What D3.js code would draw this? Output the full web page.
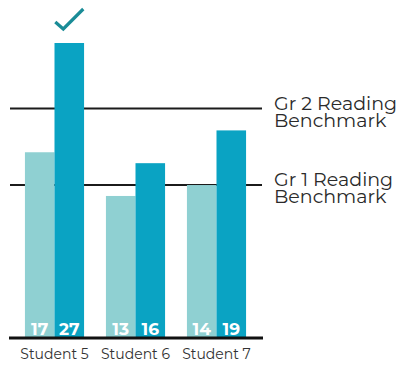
<!DOCTYPE html>
<html>
<head>
<meta charset="utf-8">
<script src="https://cdn.jsdelivr.net/npm/d3@7"></script>
<style>
  html, body { margin: 0; padding: 0; background: #fff; }
  svg { display: block; }
</style>
</head>
<body>
<svg id="chart" width="400" height="365"></svg>
<script>
// Reading scores per student: fall (light) and spring (dark)
const students = ["Student 5", "Student 6", "Student 7"];
const fallScores = [17, 13, 14];
const springScores = [27, 16, 19];
const benchmarkNames = [["Gr 1 Reading", "Benchmark"], ["Gr 2 Reading", "Benchmark"]];
const benchmarkValues = [14, 21];

const svg = d3.select("#chart");
const font = "'Montserrat', 'DejaVu Sans', sans-serif";

const x = d3.scaleBand().domain(students).range([14, 257]).paddingInner(0.27).paddingOuter(0.135);
const xSub = d3.scaleBand().domain(["fall", "spring"]).range([0, x.bandwidth()]).padding(0);
const y = d3.scaleLinear().domain([0, 27]).range([338, 43]);

const colors = { fall: "#8fd0d2", spring: "#0aa3c3" };

const rows = students.map((s, i) => ({ student: s, fall: fallScores[i], spring: springScores[i] }));

// Bars
const groups = svg.selectAll("g.group").data(rows).join("g")
  .attr("class", "group")
  .attr("transform", d => `translate(${x(d.student)},0)`);

groups.selectAll("rect").data(d => ["fall", "spring"].map(k => ({ key: k, value: d[k] }))).join("rect")
  .attr("x", d => xSub(d.key))
  .attr("y", d => y(d.value))
  .attr("width", xSub.bandwidth())
  .attr("height", d => y(0) - y(d.value))
  .attr("fill", d => colors[d.key]);

// Benchmark lines sit behind the bars
const lineLayer = svg.insert("g", "g.group");
lineLayer.selectAll("line").data(benchmarkValues).join("line")
  .attr("x1", 10).attr("x2", 262)
  .attr("y1", d => y(d)).attr("y2", d => y(d))
  .attr("stroke", "#1b1b1b").attr("stroke-width", 2);

// Benchmark labels (two lines each, set tight)
benchmarkValues.forEach((v, i) => {
  const t = svg.append("text")
    .attr("x", 274).attr("y", y(v) + 1)
    .attr("font-family", font).attr("font-size", 19)
    .attr("fill", "#2a2a2a");
  t.append("tspan").attr("x", 274).text(benchmarkNames[i][0]);
  t.append("tspan").attr("x", 274).attr("dy", 17).text(benchmarkNames[i][1]);
});

// Value labels inside bars
groups.selectAll("text.val").data(d => ["fall", "spring"].map(k => ({ key: k, value: d[k] }))).join("text")
  .attr("class", "val")
  .attr("x", d => xSub(d.key) + xSub.bandwidth() / 2)
  .attr("y", 335)
  .attr("text-anchor", "middle")
  .attr("font-family", font).attr("font-weight", "bold").attr("font-size", 17)
  .attr("fill", "#ffffff")
  .text(d => d.value);

// Baseline axis
const axis = svg.append("g").attr("transform", `translate(0,${y(0)})`)
  .call(d3.axisBottom(x).tickSize(0).tickPadding(11));
axis.select(".domain").attr("d", "M9,0H263").attr("stroke", "#111").attr("stroke-width", 3);
axis.selectAll(".tick text")
  .attr("font-family", font).attr("font-size", 14).attr("fill", "#333");

// Check mark above bars that reach the Gr 2 benchmark
const topBenchmark = d3.max(benchmarkValues);
svg.selectAll("path.check").data(rows.filter(d => d.spring >= topBenchmark)).join("path")
  .attr("class", "check")
  .attr("d", d => {
    const cx = x(d.student) + xSub("spring") + xSub.bandwidth() / 2;
    const top = y(d.spring);
    return `M${cx - 14},${top - 21}L${cx - 6},${top - 14}L${cx + 14},${top - 34}`;
  })
  .attr("fill", "none").attr("stroke", "#1a8c97").attr("stroke-width", 3.2)
  .attr("stroke-linecap", "butt").attr("stroke-linejoin", "miter");
</script>
</body>
</html>
